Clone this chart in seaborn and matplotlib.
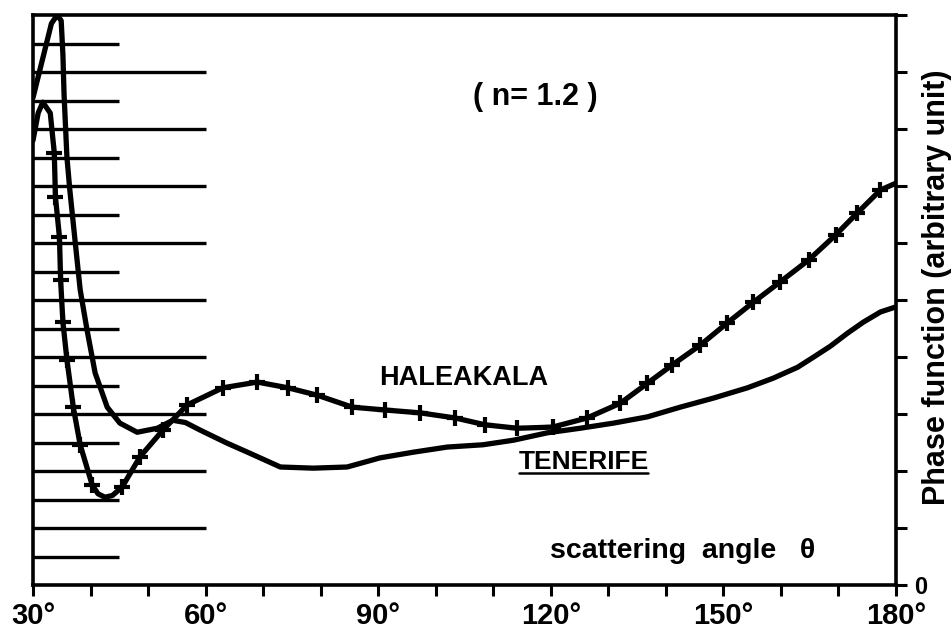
import matplotlib
matplotlib.use("Agg")
import numpy as np
import pandas as pd
import matplotlib.pyplot as plt
import seaborn as sns
from matplotlib.lines import Line2D
from matplotlib.transforms import IdentityTransform

# Phase function (arbitrary unit) versus scattering angle, refractive index n = 1.2
TEN_THETA = [30.0, 31.5, 33.2, 34.2, 34.9, 35.2, 35.4, 35.9, 36.4, 37.3, 38.2, 39.4,
             40.8, 42.9, 45.1, 48.1, 51.6, 54.3, 56.5, 59.0, 63.7, 67.5, 73.0, 78.7,
             84.6, 90.3, 96.1, 102.0, 108.2, 113.5, 119.4, 125.1, 130.9, 136.8,
             142.5, 148.3, 154.2, 158.7, 162.9, 165.7, 168.6, 171.6, 174.3, 177.3,
             180.0]
TEN_VALUE = [8.55, 9.16, 9.85, 10.0, 9.9, 9.3, 8.6, 7.5, 6.93, 6.05, 5.18, 4.47,
             3.72, 3.12, 2.84, 2.68, 2.75, 2.89, 2.85, 2.72, 2.49, 2.32, 2.07, 2.05,
             2.07, 2.23, 2.33, 2.42, 2.46, 2.54, 2.67, 2.75, 2.84, 2.95,
             3.12, 3.28, 3.46, 3.63, 3.82, 4.0, 4.19, 4.42, 4.61, 4.79,
             4.88]

HAL_THETA = [30.0, 30.9, 31.7, 33.0, 33.7, 33.9, 34.6, 34.8, 35.2, 35.9, 37.0, 38.2,
             40.3, 41.3, 42.5, 43.8, 45.5, 48.6, 52.6, 56.8, 63.0, 69.0, 74.3, 79.4,
             85.5, 91.2, 97.3, 103.4, 108.6, 114.2, 120.3, 126.3, 132.1, 136.8,
             141.1, 146.0, 150.7, 155.2, 159.9, 164.8, 169.5, 173.3, 177.3, 180.0]
HAL_VALUE = [7.8, 8.28, 8.47, 8.28, 7.58, 6.81, 6.1, 5.35, 4.61, 3.95, 3.12, 2.46,
             1.75, 1.6, 1.54, 1.57, 1.72, 2.25, 2.72, 3.16, 3.46, 3.56, 3.46, 3.33,
             3.12, 3.07, 3.02, 2.93, 2.81, 2.75, 2.77, 2.93, 3.19, 3.54,
             3.86, 4.21, 4.60, 4.96, 5.32, 5.70, 6.14, 6.53, 6.93, 7.05]
# vertices of the Haleakala curve that carry no cross marker
HAL_UNMARKED = [30.0, 30.9, 31.7, 33.0, 41.3, 42.5, 43.8, 180.0]

X_MAJOR = [30, 60, 90, 120, 150, 180]
X_MAJOR_LABELS = ["30°", "60°", "90°", "120°", "150°", "180°"]
X_MINOR = list(range(30, 181, 10))
Y_TICKS = list(range(0, 11))
Y_TICK_LABELS = ["0"] + [""] * 10

sns.set_theme(style="ticks")
plt.rcParams["font.family"] = ["Liberation Sans", "DejaVu Sans"]
plt.rcParams["font.weight"] = "bold"
for key in ("text.color", "axes.labelcolor", "xtick.color", "ytick.color",
            "axes.edgecolor"):
    plt.rcParams[key] = "black"

fig = plt.figure(figsize=(9.52, 6.33), dpi=100)
ax = fig.add_axes([33 / 952, 48 / 633, 863 / 952, 570 / 633])

ten = pd.DataFrame({"theta": TEN_THETA, "value": TEN_VALUE})
hal = pd.DataFrame({"theta": HAL_THETA, "value": HAL_VALUE})
hal_marks = hal[~hal["theta"].isin(HAL_UNMARKED)]

line_kw = dict(color="black", lw=3.8, sort=False, estimator=None,
               solid_capstyle="round", solid_joinstyle="round")
sns.lineplot(data=ten, x="theta", y="value", ax=ax, **line_kw)
sns.lineplot(data=hal, x="theta", y="value", ax=ax, **line_kw)
sns.scatterplot(data=hal_marks, x="theta", y="value", ax=ax, marker="+",
                s=130, linewidth=3.0, color="black", zorder=4)

ax.set_xlim(30, 180)
ax.set_ylim(0, 10)

# ruler of horizontal strokes along the left edge
ax.hlines(Y_TICKS[1:-1], 30, 60, color="black", lw=2.4)
ax.hlines(np.array(Y_TICKS[:-1]) + 0.5, 30, 45, color="black", lw=2.4)

for s in ax.spines.values():
    s.set_visible(True)
    s.set_linewidth(2.6)
    s.set_color("black")

ax.set_xticks(X_MAJOR)
ax.set_xticklabels(X_MAJOR_LABELS, fontsize=21, fontweight="bold")
ax.set_xticks(X_MINOR, minor=True)
ax.tick_params(axis="x", which="both", direction="out", length=8, width=2.2,
               color="black", pad=4, bottom=True, top=False)

ax.yaxis.tick_right()
ax.set_yticks(Y_TICKS)
ax.set_yticklabels(Y_TICK_LABELS, fontsize=17, fontweight="bold")
ax.tick_params(axis="y", which="both", direction="out", length=8, width=2.2,
               color="black", pad=5, left=False, right=True)

ax.set_xlabel("")
ax.yaxis.set_label_position("right")
ax.set_ylabel("Phase function (arbitrary unit)", fontsize=22, fontweight="bold")
ax.yaxis.label.set_verticalalignment("center")
ax.yaxis.label.set_horizontalalignment("center")
ax.yaxis.set_label_coords(1.047, 0.523)

ax.text(117.3, 8.56, "( n= 1.2 )", fontsize=22, fontweight="bold",
        ha="center", va="center")
ax.text(104.8, 3.63, "HALEAKALA", fontsize=19.5, fontweight="bold",
        ha="center", va="center")
ten_label = ax.text(125.7, 2.16, "TENERIFE", fontsize=19, fontweight="bold",
                    ha="center", va="center")
ax.text(119.9, 0.6, "scattering  angle   θ", fontsize=20.5, fontweight="bold",
        ha="left", va="center")

fig.canvas.draw()
bb = ten_label.get_window_extent()
fig.add_artist(Line2D([bb.x0 + 1, bb.x1 - 1], [bb.y0 + 1, bb.y0 + 1],
                      transform=IdentityTransform(), color="black", lw=1.8))

fig.savefig("out.png", dpi=100, facecolor="white")
